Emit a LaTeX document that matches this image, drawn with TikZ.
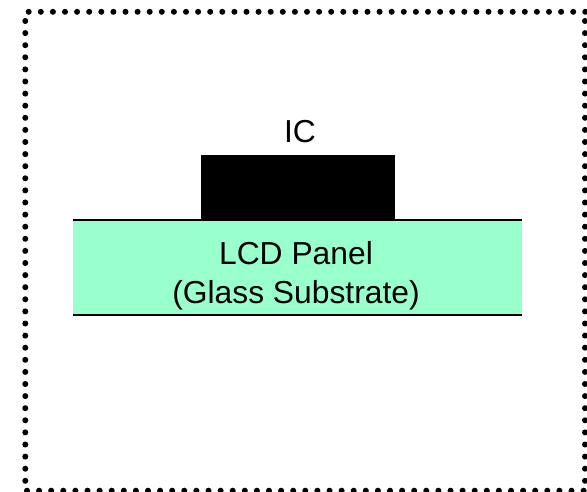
\documentclass[tikz,border=0pt]{standalone}
\usepackage{fontspec}
\setmainfont{Liberation Sans}
\definecolor{panelgreen}{HTML}{99FFCC}
\tikzset{
  frame/.style={draw=black,line width=6pt,line cap=round,dash pattern=on 0pt off 12.1pt},
  panel/.style={fill=panelgreen,draw=none,minimum width=449pt,minimum height=95pt,inner sep=0pt},
  chip/.style={fill=black,draw=none,minimum width=194pt,minimum height=65pt,inner sep=0pt},
  edge/.style={draw=black,line width=1.6pt},
  caption/.style={font=\fontsize{31.8pt}{38.5pt}\selectfont,text=black,inner sep=0pt,align=center}
}
\begin{document}
\begin{tikzpicture}[x=1pt,y=-1pt]
\useasboundingbox (0,0) rectangle (587,492);
\node[panel] (lcd) at (297.5,267.5) {};
\node[caption] (lcdlabel) at (296,276) {LCD Panel\\(Glass Substrate)};
\node[chip] (ic) at (297.5,187.5) {};
\node[caption] (iclabel) at (300,132) {IC};
\draw[edge] (lcd.north west) -- (lcd.north east);
\draw[edge] (lcd.south west) -- (lcd.south east);
\coordinate (tl) at (28.7,11.8);
\coordinate (tr) at (586,11.8);
\coordinate (lt) at (25.3,21);
\coordinate (lb) at (25.3,486);
\coordinate (rt) at (585,21);
\coordinate (rb) at (585,486);
\coordinate (bl) at (27,490.7);
\coordinate (br) at (586,490.7);
\draw[frame] (tl) -- (tr);
\draw[frame] (lt) -- (lb);
\draw[frame] (rt) -- (rb);
\draw[frame] (bl) -- (br);
\end{tikzpicture}
\end{document}
